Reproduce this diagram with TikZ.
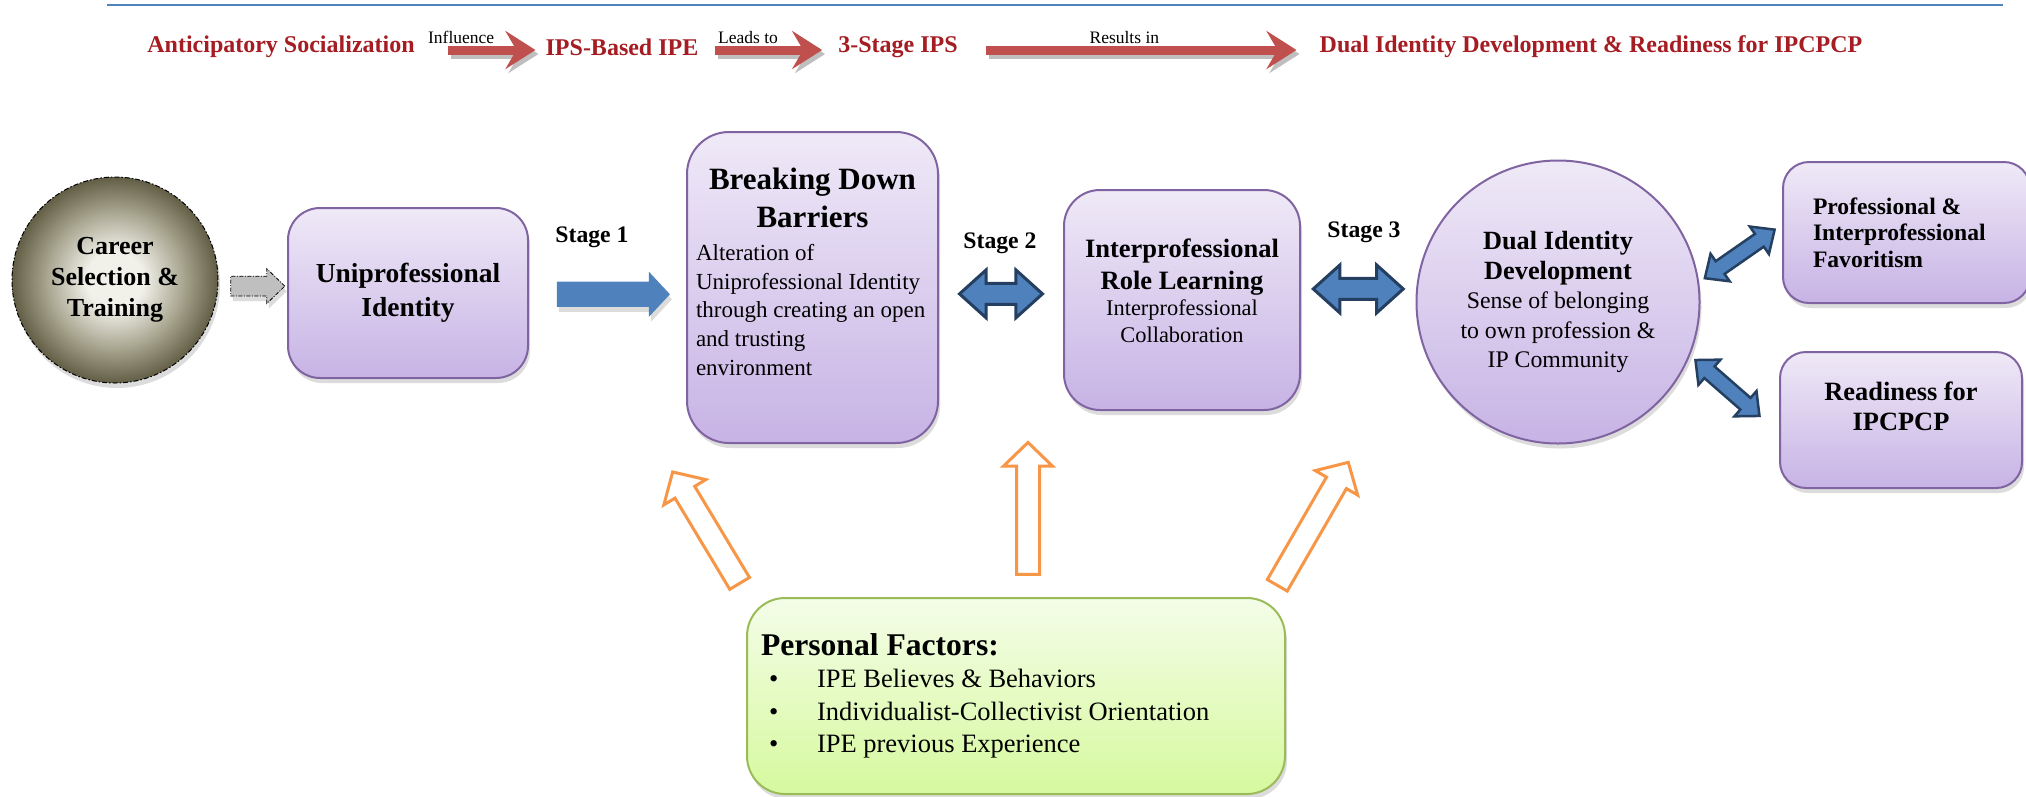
\documentclass[tikz,border=0pt]{standalone}
\usepackage{fontspec}
\setmainfont{Liberation Serif}
\usetikzlibrary{positioning, shapes.arrows, shadows, arrows.meta}

\definecolor{boxline}{RGB}{128,100,162}
\definecolor{boxtop}{RGB}{239,233,247}
\definecolor{boxbot}{RGB}{199,179,229}
\definecolor{pfline}{RGB}{155,187,89}
\definecolor{pftop}{RGB}{244,253,232}
\definecolor{pfbot}{RGB}{214,249,158}
\definecolor{ablue}{RGB}{79,129,189}
\definecolor{anavy}{RGB}{36,63,96}
\definecolor{aorange}{RGB}{247,150,70}
\definecolor{hred}{RGB}{165,28,34}
\definecolor{ared}{RGB}{192,80,77}
\definecolor{olive}{RGB}{70,67,45}
\definecolor{oliveD}{RGB}{98,94,70}
\definecolor{oliveM}{RGB}{165,162,140}
\definecolor{oliveL}{RGB}{241,240,233}

\newcommand\fsz[2]{\fontsize{#1}{#2}\selectfont}
\newcommand\lift[1]{\par\vspace{#1}\nointerlineskip\null}
\newcommand\pfitem{\hspace*{8pt}\makebox[48pt][l]{\textbullet}}

\pgfdeclareradialshading{careershade}{\pgfpoint{0bp}{0bp}}{%
  color(0bp)=(oliveL); color(7bp)=(oliveL); color(17bp)=(oliveM);
  color(25bp)=(oliveD); color(31bp)=(olive); color(50bp)=(olive)}

\tikzset{
  hdr/.style={text=hred, font=\bfseries\fsz{24}{28}, inner sep=2pt},
  flowlbl/.style={font=\fsz{17.5}{20}, text=black, above=1pt, inner sep=1pt},
  redarrow/.style={draw=ared, line width=9pt, -{Stealth[length=30pt, width=38pt, inset=11pt]}},
  redshadow/.style={redarrow, draw=black!25, transform canvas={shift={(3pt,-4pt)}}},
  boxshadow/.style={drop shadow={shadow xshift=2pt, shadow yshift=-5pt, opacity=.3, fill=black!45}},
  idbox/.style={draw=boxline, line width=2pt, rounded corners=#1, top color=boxtop,
    bottom color=boxbot, boxshadow, inner sep=0pt},
  idbox/.default=30pt,
  idcirc/.style={circle, draw=boxline, line width=2pt, top color=boxtop, bottom color=boxbot,
    boxshadow, align=flush center, inner sep=0pt},
  careercirc/.style={circle, minimum size=206pt, draw=black, line width=1pt,
    dash pattern=on 5pt off 2pt on 1.5pt off 2pt, shade, shading=careershade, boxshadow,
    align=center, font=\bfseries\fsz{26}{31}, inner sep=0pt},
  pfbox/.style={draw=pfline, line width=2pt, rounded corners=38pt, top color=pftop,
    bottom color=pfbot, boxshadow, inner sep=0pt},
  stagelbl/.style={font=\bfseries\fsz{23.7}{28}},
  greyarrow/.style={single arrow, draw=black, line width=.8pt,
    dash pattern=on 4pt off 1.5pt on 1pt off 1.5pt, fill=black!25, inner xsep=0pt, inner ysep=9.5pt,
    single arrow head extend=7.5pt, single arrow tip angle=88, boxshadow},
  bluearrow/.style={single arrow, fill=ablue, inner xsep=0pt, inner ysep=12.5pt,
    single arrow head extend=10pt, single arrow tip angle=94, boxshadow},
  dblarrow/.style={double arrow, draw=anavy, line width=3pt, fill=ablue, inner xsep=0pt,
    inner ysep=9pt, double arrow head extend=13.5pt, double arrow tip angle=84},
  diagarrow/.style={double arrow, draw=anavy, line width=2.5pt, fill=ablue, inner xsep=0pt,
    inner ysep=6.5pt, double arrow head extend=9pt, double arrow tip angle=84, minimum height=85pt},
  hollowarrow/.style={single arrow, draw=aorange, line width=3pt, fill=white, inner xsep=0pt,
    inner ysep=10pt, single arrow head extend=13pt, single arrow tip angle=92, allow upside down}
}

\begin{document}
\begin{tikzpicture}[x=1pt, y=1pt]
	\useasboundingbox (0,0) rectangle (2026,-796);
	\draw[ablue, line width=2.5pt] (107,-5) -- (2003,-5);

	% top row
	\node[hdr] (ant)   at (281,-47)  {Anticipatory Socialization};
	\node[hdr] (ipsb)  at (622,-47)  {IPS-Based IPE};
	\node[hdr] (tsips) at (898,-47)  {3-Stage IPS};
	\node[hdr] (dualr) at (1591,-47) {Dual Identity Development \& Readiness for IPCPCP};

	\foreach \a/\b/\s/\e/\p/\t in {ant/ipsb/31pt/8pt/.35/Influence,
		ipsb/tsips/14pt/14pt/.35/Leads to, tsips/dualr/26pt/21pt/.46/Results in}
	{
		\draw[redshadow, shorten <=\s, shorten >=\e] ([yshift=-3pt]\a.east) -- ([yshift=-3pt]\b.west);
		\draw[redarrow, shorten <=\s, shorten >=\e] ([yshift=-3pt]\a.east)
			-- node[flowlbl, pos=\p] (l\a) {\t} ([yshift=-3pt]\b.west);
	}

	% main row
	\node[careercirc] (car) at (115,-280) {Career\\Selection \&\\Training};
	\node[idbox=32pt, minimum width=240pt, minimum height=170pt, align=center,
		font=\bfseries\fsz{27.5}{34}] (uni) at (408,-293) {Uniprofessional\\Identity};
	\node[idbox=42pt, minimum width=251pt, minimum height=311pt, text width=233pt, align=flush left]
		(brk) at (812.5,-287.5) {%
		{\centering\bfseries\fsz{31}{38}Breaking Down\\Barriers\par}\vspace{4pt}
		\fsz{23}{28.7}Alteration of\\Uniprofessional Identity\\through creating an open\\
		and trusting\\environment\lift{31pt}};
	\node[idbox=36pt, minimum width=236pt, minimum height=220pt, text width=236pt, align=flush center]
		(ipr) at (1182,-300) {%
		{\bfseries\fsz{26.5}{32}Interprofessional\\Role Learning\par}
		\fsz{22.4}{26.5}Interprofessional\\Collaboration\lift{19pt}};
	\node[idcirc, minimum size=283pt, text width=220pt] (dual) at (1558,-302) {%
		{\bfseries\fsz{26.3}{30}Dual Identity\\Development\par}
		\fsz{23.8}{29.5}Sense of belonging\\to own profession \&\\IP Community\par};
	\node[idbox=26pt, minimum width=247pt, minimum height=141pt, text width=187pt, align=flush left,
		font=\bfseries\fsz{23.6}{26.5}] (prof) at (1906.5,-232.5)
		{Professional \&\\Interprofessional\\Favoritism\par};
	\node[idbox=26pt, minimum width=242pt, minimum height=136pt, text width=220pt, align=flush center,
		font=\bfseries\fsz{26.4}{30}] (ready) at (1901,-420) {Readiness for\\IPCPCP\lift{28pt}};

	% personal factors
	\node[pfbox, minimum width=538pt, minimum height=196pt, text width=510pt, align=flush left]
		(pf) at (1016,-696) {%
		{\bfseries\fsz{31.6}{36}Personal Factors:\par}
		\fsz{26.5}{32.5}\pfitem IPE Believes \& Behaviors\\
		\pfitem Individualist-Collectivist Orientation\\
		\pfitem IPE previous Experience\par};

	% stage arrows
	\path (car) -- node[greyarrow, minimum height=54pt] (ga) {} (uni);
	\path (uni) -- node[bluearrow, minimum height=113pt, yshift=-4pt] (ba) {} (brk);
	\path (brk) -- node[dblarrow, minimum height=83pt] (da1) {} (ipr);
	\path (ipr) -- node[dblarrow, minimum height=90pt, yshift=12pt] (da2) {} (dual);
	\path (dual.8) -- node[diagarrow, sloped, pos=.49] (dp) {} ([yshift=8pt]prof.west);
	\path (dual.-22) -- node[diagarrow, sloped, pos=.42] (dr) {} ([yshift=-13pt]ready.west);

	\node[stagelbl] (s1) at (592,-237)  {Stage 1};
	\node[stagelbl] (s2) at (1000,-243) {Stage 2};
	\node[stagelbl] (s3) at (1364,-232) {Stage 3};

	% influence of personal factors
	\path ([shift={(-3pt,8pt)}]pf.north west) -- node[hollowarrow, sloped, minimum height=130pt] (pa1) {}
		+(121:132) coordinate (pt1);
	\path ([shift={(12pt,16pt)}]pf.north) -- node[hollowarrow, sloped, minimum height=132pt] (pa2) {}
		+(90:134) coordinate (pt2);
	\path ([shift={(-12pt,6pt)}]pf.north east) -- node[hollowarrow, sloped, minimum height=142pt] (pa3) {}
		+(60:144) coordinate (pt3);
\end{tikzpicture}
\end{document}
